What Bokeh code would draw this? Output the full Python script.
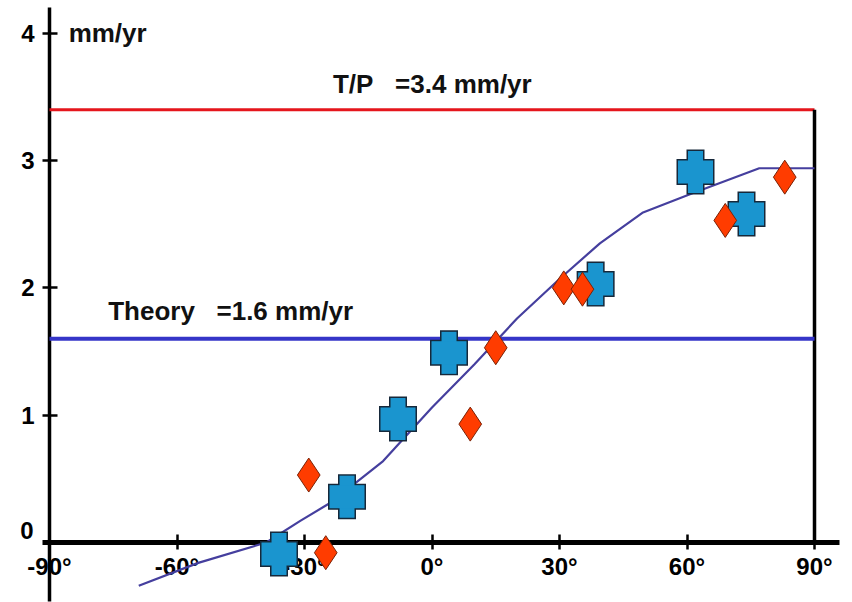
from bokeh.plotting import figure
from bokeh.models import LinearAxis, FixedTicker, Range1d, ColumnDataSource
from bokeh.core.properties import value
from bokeh.embed import file_html
from bokeh.resources import INLINE

# Rates in mm/yr versus latitude in degrees
tp_rate = 3.4
theory_rate = 1.6

blue_lat = [-36, -20, -8, 4, 38.5, 62, 74]
blue_rate = [-0.09, 0.36, 0.97, 1.49, 2.03, 2.91, 2.58]

red_lat = [-29, -25, 9, 15, 31, 35.4, 69, 83]
red_rate = [0.53, -0.08, 0.93, 1.53, 2.0, 1.99, 2.53, 2.87]

curve_lat = [-69, -55, -39, -31, -24, -11.5, 0, 10, 20, 30, 39.5, 49.5, 61, 77, 90]
curve_rate = [-0.34, -0.16, 0.0, 0.17, 0.31, 0.64, 1.06, 1.40, 1.76, 2.07, 2.35, 2.59, 2.74, 2.94, 2.94]

lat_ticks = [-90, -60, -30, 0, 30, 60, 90]
rate_ticks = [1, 2, 3, 4]

FONT = "Liberation Sans"
GAP = "\u00a0\u00a0\u00a0"  # wide gap before the "=" sign

p = figure(width=852, height=602, output_backend="svg", toolbar_location=None,
           x_axis_location=None, y_axis_location=None, min_border=0,
           x_range=Range1d(-101.53, 98.94), y_range=Range1d(-0.4713, 4.2577))
p.grid.visible = False
p.outline_line_color = None
p.background_fill_color = "white"
p.border_fill_color = "white"

# axes crossing at (-90, 0)
xaxis = LinearAxis(fixed_location=0, ticker=FixedTicker(ticks=lat_ticks),
                   bounds=(-91.6, 95.8))
xaxis.major_label_overrides = {t: f"{t}\u00b0" for t in lat_ticks}
yaxis = LinearAxis(fixed_location=-90, ticker=FixedTicker(ticks=rate_ticks),
                   bounds=(-0.46, 4.2))
yaxis.major_label_overrides = {t: str(t) for t in rate_ticks}
for ax, lw in ((xaxis, 5), (yaxis, 3.5)):
    ax.level = "underlay"
    ax.axis_line_width = lw
    ax.axis_line_color = "black"
    ax.major_tick_line_width = 2.5
    ax.major_tick_line_color = "black"
    ax.major_tick_in = 8
    ax.major_tick_out = 7
    ax.minor_tick_line_color = None
    ax.major_label_text_font = FONT
    ax.major_label_text_font_style = "bold"
    ax.major_label_text_font_size = "24px"
    ax.major_label_text_color = "black"
xaxis.major_label_standoff = 3
yaxis.major_label_standoff = 8
p.add_layout(xaxis, "below")
p.add_layout(yaxis, "left")

# zero label sits just above the horizontal axis
p.text(x=[-90], y=[0], text=["0"], x_offset=-16, y_offset=-12,
       text_align="right", text_baseline="middle", text_font=value(FONT),
       text_font_style="bold", text_font_size="24px", text_color="black")

# reference rates
p.segment(x0=[lat_ticks[0]], y0=[tp_rate], x1=[lat_ticks[-1]], y1=[tp_rate],
          line_color="#e5161c", line_width=3)
p.segment(x0=[lat_ticks[-1]], y0=[0], x1=[lat_ticks[-1]], y1=[tp_rate],
          line_color="black", line_width=3.5)
p.segment(x0=[lat_ticks[0]], y0=[theory_rate], x1=[lat_ticks[-1]], y1=[theory_rate],
          line_color="#3535c8", line_width=4)

# model curve
p.line(curve_lat, curve_rate, line_color="#453f9e", line_width=2.2)

# blue plus-shaped markers: outlined bars, then fill-only bars on top
blue_src = ColumnDataSource(dict(x=blue_lat, y=blue_rate))
CROSS_FILL = "#1a95cf"
CROSS_EDGE = "#16283a"
for w, h in ((16, 43), (36, 24)):
    p.rect("x", "y", width=w, height=h, width_units="screen", height_units="screen",
           source=blue_src, fill_color=CROSS_FILL, line_color=CROSS_EDGE, line_width=2,
           line_join="miter")
for w, h in ((16, 43), (36, 24)):
    p.rect("x", "y", width=w - 1, height=h - 1, width_units="screen", height_units="screen",
           source=blue_src, fill_color=CROSS_FILL, line_color=None)

# red diamonds
p.scatter(red_lat, red_rate, marker="diamond", size=34, fill_color="#ff3c00",
          line_color="#7a2206", line_width=1)

# annotations
lbl = dict(text_font=value(FONT), text_font_style="bold", text_font_size="26px",
           text_color="#111111", text_baseline="middle", text_align="left")
p.text(x=[-85.5], y=[4.0], text=["mm/yr"], **lbl)
p.text(x=[-23.3], y=[tp_rate + 0.2], text=["T/P" + GAP + "=3.4 mm/yr"], **lbl)
p.text(x=[-76.2], y=[theory_rate + 0.22], text=["Theory" + GAP + "=1.6 mm/yr"], **lbl)

open("out.html", "w").write(file_html(p, INLINE))
